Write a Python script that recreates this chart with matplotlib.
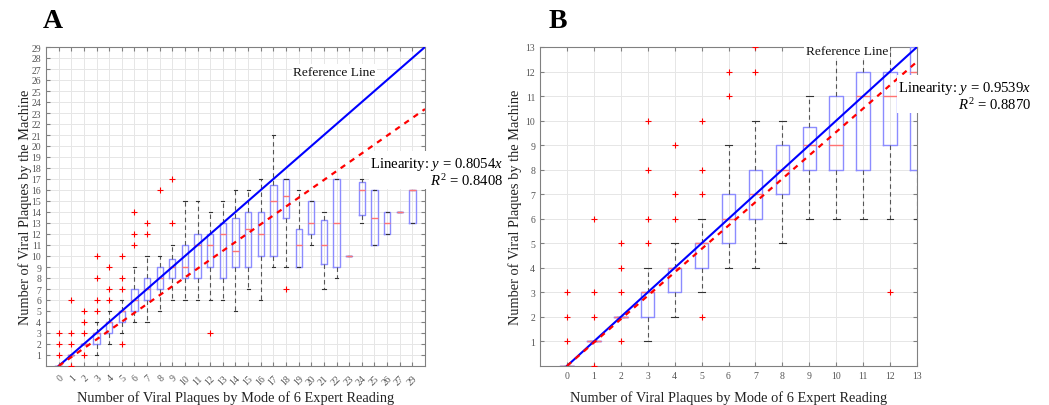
import matplotlib
matplotlib.use('Agg')
import matplotlib.pyplot as plt

plt.rcParams['font.family'] = ['Liberation Serif', 'DejaVu Serif']
plt.rcParams['mathtext.fontset'] = 'custom'
plt.rcParams['mathtext.rm'] = 'Liberation Serif'
plt.rcParams['mathtext.it'] = 'Liberation Serif:italic'

# expert mode (x categories) and machine count box statistics
labels = [0, 1, 2, 3, 4, 5, 6, 7, 8, 9, 10, 11, 12, 13, 14, 15, 16, 17, 18, 19,
          20, 21, 22, 23, 24, 25, 26, 27, 29]
q1 = [0, 1, 2, 2, 3, 4, 5, 6, 7, 8, 8, 8, 9, 8, 9, 9, 10, 10, 13.5, 9,
      12, 9.25, 9, 10, 13.75, 11, 12, 14, 13]
med = [0, 1, 2, 3, 4, 5, 6, 7, 8, 9, 9, 11, 11, 12, 10.5, 12.5, 12, 15, 15.5, 11,
       13, 11, 13, 10, 16, 13.5, 13, 14, 16]
q3 = [0, 1, 2, 3, 4, 5, 7, 8, 9, 9.75, 11, 12, 12, 13, 13.5, 14, 14, 16.5, 17, 12.5,
      15, 13.25, 17, 10, 16.75, 16, 14, 14, 16]
whis_lo = [0, 1, 2, 1, 2, 3, 4, 4, 5, 6, 6, 6, 6, 6, 5, 7, 6, 9, 9, 9,
           11, 7, 8, 10, 13, 11, 12, 14, 13]
whis_hi = [0, 1, 2, 4, 5, 6, 9, 10, 10, 11, 15, 15, 14, 15, 16, 16, 17, 21, 17, 16,
           15, 14, 17, 10, 17, 16, 14, 14, 16]
outliers = [[1, 2, 3], [0, 2, 3, 6], [1, 3, 4, 5], [5, 6, 8, 10], [6, 7, 9],
            [2, 7, 8, 10], [11, 12, 14], [12, 13], [16], [13, 17], [], [], [3],
            [], [], [], [], [], [7], [], [], [], [], [], [], [], [], [], []]

slope_all = 0.8054
r2_all = 0.8408
slope_low = 0.9539
r2_low = 0.8870
n_low = 14  # categories 0..13 in the zoomed panel

box_col = (0.55, 0.55, 1.0)
med_col = (1.0, 0.45, 0.45)
axis_col = '#808080'


def box_stats(n):
    stats = []
    for i in range(n):
        stats.append(dict(med=med[i], q1=q1[i], q3=q3[i],
                          whislo=whis_lo[i], whishi=whis_hi[i],
                          fliers=outliers[i]))
    return stats


def draw_panel(ax, n, slope, xmax, ymax):
    pos = list(range(n))
    ax.bxp(box_stats(n), positions=pos, widths=0.5, capwidths=0.25,
           boxprops=dict(color=box_col, lw=1.0),
           medianprops=dict(color=med_col, lw=1.0),
           whiskerprops=dict(color='#555555', lw=0.8, linestyle=(0, (4, 3))),
           capprops=dict(color='#333333', lw=0.8),
           flierprops=dict(marker='+', markeredgecolor='red', markersize=5,
                           markeredgewidth=0.8),
           manage_ticks=False, zorder=3)
    xs = [0, xmax]
    ax.plot(xs, [0, xmax], color='#0000ff', lw=1.5, zorder=4)
    ax.plot(xs, [0, slope * xmax], color='red', lw=1.6,
            linestyle=(0, (2.5, 2.5)), zorder=4)
    ax.set_xlim(-1, xmax)
    ax.set_ylim(0, ymax)
    ax.set_yticks(range(1, ymax + 1))
    ax.grid(True, color='#e6e6e6', lw=0.7, zorder=0)
    ax.set_axisbelow(True)
    for s in ax.spines.values():
        s.set_color(axis_col)
        s.set_linewidth(0.8)
    ax.tick_params(direction='in', top=True, right=True, length=3,
                   color=axis_col, labelcolor='#555555', labelsize=7)
    ax.set_xlabel('Number of Viral Plaques by Mode of 6 Expert Reading',
                  fontsize=10.4, color='#222222', va='center')
    ax.set_ylabel('Number of Viral Plaques by the Machine', fontsize=10.4,
                  color='#222222', va='center')
    ax.xaxis.set_label_coords(0.5, -31 / 319)


def fit_text(ax, x, y, slope, r2):
    txt = (f'Linearity: $y$ = {slope:.4f}$x$\n'
           f'$R^2$ = {r2:.4f}')
    ax.text(x, y, txt, ha='right', va='center', multialignment='right',
            fontsize=10.6, linespacing=1.05, clip_on=False, zorder=6,
            bbox=dict(facecolor='white', edgecolor='none', pad=1))


fig = plt.figure(figsize=(10.49, 4.06), dpi=100)
ax_a = fig.add_axes([46 / 1049, 39 / 406, 379 / 1049, 319 / 406])
ax_b = fig.add_axes([540 / 1049, 39 / 406, 377 / 1049, 319 / 406])

# panel A: all categories
n_all = len(labels)
draw_panel(ax_a, n_all, slope_all, n_all, 29)
ax_a.set_xticks(range(n_all))
ax_a.set_xticklabels([str(v) for v in labels], rotation=45, ha='right',
                     va='top', rotation_mode='anchor')
ax_a.tick_params(axis='x', pad=5)
ax_a.yaxis.set_label_coords(-21 / 379, 0.5)
ax_a.text(21.8, 26.75, 'Reference Line', ha='center', va='center',
          fontsize=9.6, color='#111111', zorder=5,
          bbox=dict(facecolor='white', edgecolor='none', pad=1))
fit_text(ax_a, 35.2, 17.7, slope_all, r2_all)

# panel B: low-count categories
draw_panel(ax_b, n_low, slope_low, 13, 13)
ax_b.set_xticks(range(n_low))
ax_b.set_xticklabels([str(v) for v in labels[:n_low]])
ax_b.yaxis.set_label_coords(-25 / 377, 0.5)
ax_b.text(10.4, 12.85, 'Reference Line', ha='center', va='center',
          fontsize=9.6, color='#111111', zorder=5,
          bbox=dict(facecolor='white', edgecolor='none', pad=1))
fit_text(ax_b, 17.25, 11.03, slope_low, r2_low)

fig.text(43 / 1049, 1 - 21 / 406, 'A', fontsize=20, fontweight='bold',
         va='center', ha='left')
fig.text(549 / 1049, 1 - 21 / 406, 'B', fontsize=20, fontweight='bold',
         va='center', ha='left')

fig.savefig('out.png', dpi=100)
